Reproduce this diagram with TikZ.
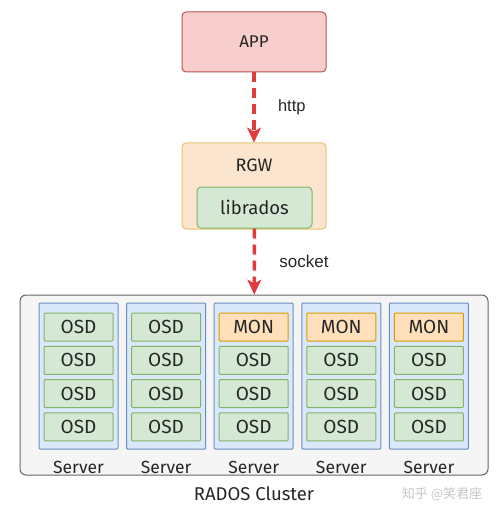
\documentclass[tikz,border=0pt]{standalone}
\usepackage{fontspec}
\setmainfont{Fira Sans}
\newfontfamily\labelfont{Liberation Sans}
\newfontfamily\cjkfont{Noto Sans CJK SC}
\usepackage{tikz}
\usetikzlibrary{arrows,arrows.meta,positioning}

\definecolor{appfill}{HTML}{F8CECC}
\definecolor{appline}{HTML}{B85450}
\definecolor{rgwfill}{HTML}{FCE5CF}
\definecolor{rgwline}{HTML}{E6C46E}
\definecolor{libfill}{HTML}{D5E8D4}
\definecolor{libline}{HTML}{82B366}
\definecolor{monfill}{HTML}{FFE0BB}
\definecolor{monline}{HTML}{D79B00}
\definecolor{srvfill}{HTML}{DAE8FC}
\definecolor{srvline}{HTML}{6C8EBF}
\definecolor{clufill}{HTML}{F5F5F5}
\definecolor{clurline}{HTML}{666666}
\definecolor{linkred}{HTML}{E03C3C}
\definecolor{txt}{HTML}{262626}

\tikzset{
  box/.style={draw, rounded corners=4pt, inner sep=0pt, text=txt, line width=1pt},
  osdbox/.style={box, fill=libfill, draw=libline, minimum width=69pt, minimum height=28pt, rounded corners=1pt, font=\fontsize{19}{19}\selectfont},
  monbox/.style={osdbox, fill=monfill, draw=monline},
  link/.style={-{Stealth[length=15pt,width=14pt,inset=4pt,line width=0.5pt,fill=linkred]}, draw=linkred, line width=3.4pt, dash pattern=on 10pt off 6pt},
}

\begin{document}
\begin{tikzpicture}[x=1pt,y=-1pt]
		\useasboundingbox (0,0) rectangle (500,513);
		
		% client side
		\node[box, fill=appfill, draw=appline, minimum width=144pt, minimum height=60pt, font=\fontsize{17}{17}\selectfont] (app) at (254,42) {APP};
		\node[box, fill=rgwfill, draw=rgwline, minimum width=144pt, minimum height=86pt] (rgw) at (254,186) {};
		\node[text=txt, font=\fontsize{18}{18}\selectfont] (rgwtitle) at (254,165) {RGW};
		\node[box, fill=libfill, draw=libline, minimum width=115pt, minimum height=41pt, font=\fontsize{18.5}{18.5}\selectfont] (librados) at (254.5,207.5) {librados};
		
		% cluster
		\node[box, fill=clufill, draw=clurline, minimum width=468pt, minimum height=180pt, rounded corners=6pt] (cluster) at (254,385) {};
		\node[text=txt, font=\fontsize{18.5}{18.5}\selectfont] (clustername) at (254,494) {RADOS Cluster};
		
		\foreach \i in {1,...,5}{
			\node[box, fill=srvfill, draw=srvline, minimum width=79pt, minimum height=146pt, rounded corners=1pt] (server\i) at ({78.5+87.6*(\i-1)},376) {};
			\node[text=txt, font=\fontsize{17.5}{17.5}\selectfont] (srvname\i) at ({78.5+87.6*(\i-1)},467) {Server};
			\foreach \j in {2,3,4}
				\node[osdbox] (osd\i\j) at ({78.5+87.6*(\i-1)},{327+33.3*(\j-1)}) {OSD};
		}
		\foreach \i in {1,2}
			\node[osdbox] (osd\i1) at ({78.5+87.6*(\i-1)},327) {OSD};
		\foreach \i in {3,4,5}
			\node[monbox] (mon\i) at ({78.5+87.6*(\i-1)},327) {MON};
		
		% links
		\draw[link] (app) -- (rgw) node[midway, right=19pt, text=txt, font=\labelfont\fontsize{16.5}{16.5}\selectfont] {http};
		\draw[link] (librados) -- (cluster) node[midway, right=20pt, text=txt, font=\labelfont\fontsize{17}{17}\selectfont] {socket};
		
		\node[text=gray!45, font=\cjkfont\fontsize{13}{13}\selectfont] (mark) at (442,494) {知乎 @笑君座};
	\end{tikzpicture}
\end{document}
